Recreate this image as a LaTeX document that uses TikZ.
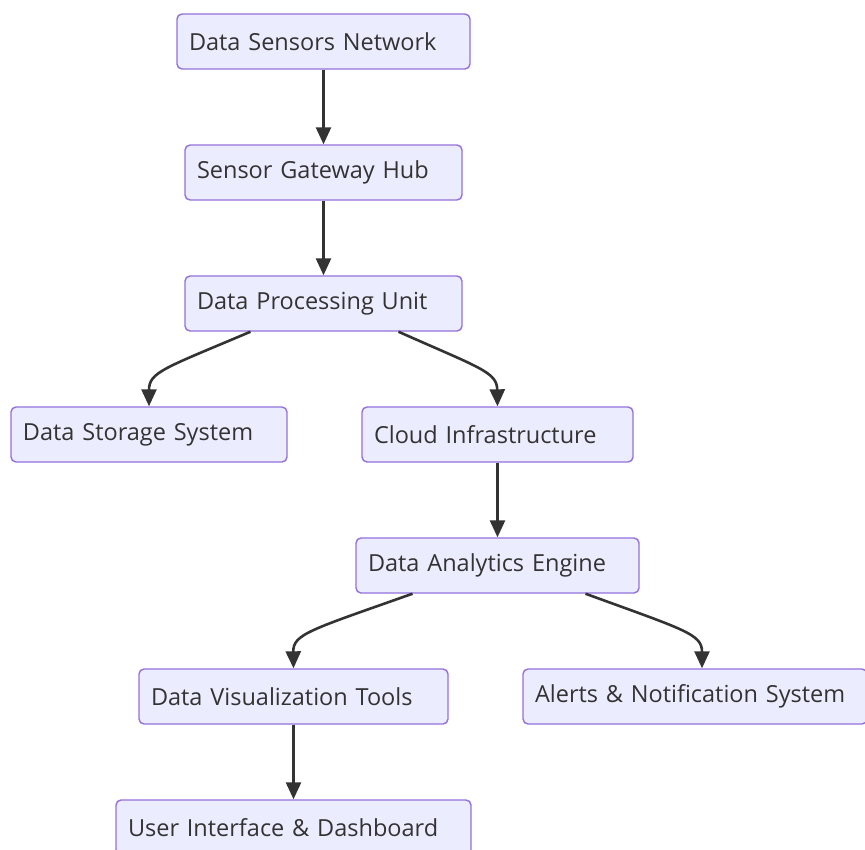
\documentclass[tikz,border=0pt]{standalone}
\usepackage{fontspec}
\setmainfont{Open Sans}
\usetikzlibrary{arrows.meta}
\definecolor{nodefill}{HTML}{ECECFF}
\definecolor{nodeline}{HTML}{9370DB}
\definecolor{ink}{HTML}{333333}
\begin{document}
\begin{tikzpicture}[
    x=1pt, y=-1pt,
    box/.style={rectangle, draw=nodeline, fill=nodefill, rounded corners=5pt, line width=1.4pt, minimum height=55pt, inner xsep=12pt, align=left, text=ink, font=\fontsize{23.5}{26}\selectfont},
    a/.style={-{Triangle[length=17pt,width=15pt]}, line width=2.6pt, ink}
]
    \useasboundingbox (0,0) rectangle (865,849);
    \clip (0,0) rectangle (865,849);
    \node[box, text width=269pt] (sensors)  at (323.5,41.5)  {Data Sensors Network};
    \node[box, text width=253pt] (gateway)  at (323.5,172.5) {Sensor Gateway Hub};
    \node[box, text width=253pt] (process)  at (323.5,303.5) {Data Processing Unit};
    \node[box, text width=252pt] (storage)  at (149,434.5)   {Data Storage System};
    \node[box, text width=247pt] (cloud)    at (497.5,434.5) {Cloud Infrastructure};
    \node[box, text width=259pt] (analytic) at (497.5,565.5) {Data Analytics Engine};
    \node[box, text width=285pt] (visual)   at (293.5,696.5) {Data Visualization Tools};
    \node[box, text width=320pt] (alerts)   at (695,696.5)   {Alerts \& Notification System};
    \node[box, text width=331pt] (ui)       at (293.5,827.5) {User Interface \& Dashboard};
    \draw[a] (sensors) -- (gateway);
    \draw[a] (gateway) -- (process);
    \draw[a] ([xshift=-73pt]process.south) .. controls (165,368) and (149,372) .. (storage.north);
    \draw[a] ([xshift=75pt]process.south) .. controls (480,368) and (497,372) .. (cloud.north);
    \draw[a] (cloud) -- (analytic);
    \draw[a] ([xshift=-85pt]analytic.south) .. controls (310,630) and (293,634) .. (visual.north);
    \draw[a] ([xshift=88pt]analytic.south) .. controls (685,630) and (702,634) .. ([xshift=7pt]alerts.north);
    \draw[a] (visual) -- (ui);
\end{tikzpicture}
\end{document}
